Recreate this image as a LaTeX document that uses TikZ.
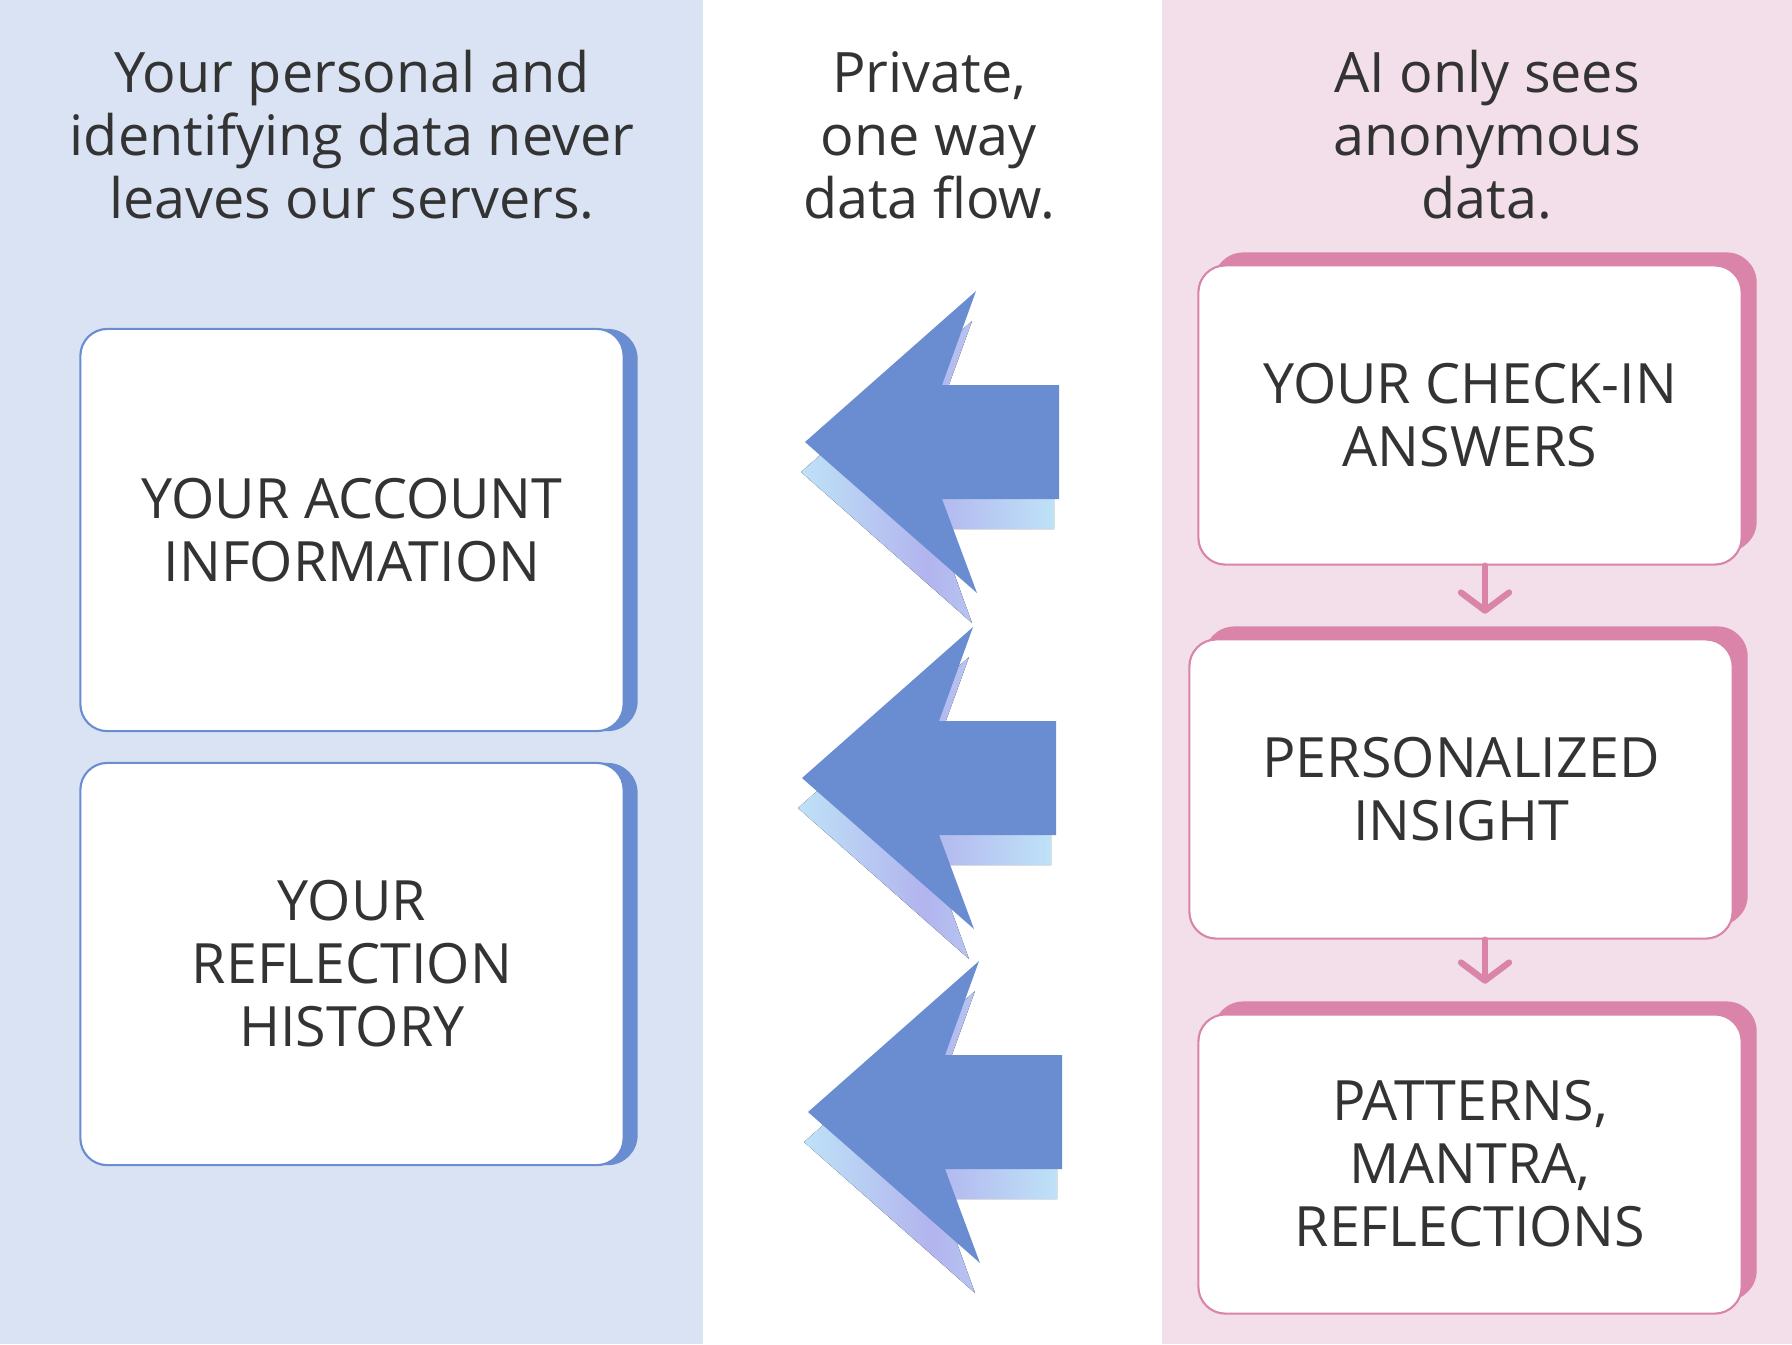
\documentclass[tikz,border=0pt]{standalone}
\usepackage{fontspec}
\setmainfont{Open Sans}
\usepackage{xcolor}
\usetikzlibrary{arrows.meta,positioning,calc}
\definecolor{leftbg}{HTML}{DAE3F3}
\definecolor{rightbg}{HTML}{F3DFEA}
\definecolor{flowblue}{HTML}{6A8CD0}
\definecolor{shadelav}{HTML}{B2B4EE}
\definecolor{shadesky}{HTML}{BEE2F7}
\definecolor{rosy}{HTML}{D984A8}
\definecolor{ink}{HTML}{333333}

\begin{document}
\begin{tikzpicture}[x=0.01cm,y=-0.01cm,
  headtext/.style={text=ink,align=center,font=\fontsize{15.85}{17.9}\selectfont},
  infobox/.style={draw=#1,line width=0.6pt,fill=white,rounded corners=0.27cm,
    minimum width=5.43cm,align=center,text=ink,font=\fontsize{15.8}{17.9}\selectfont},
  boxshade/.style={fill=#1,rounded corners=0.3cm,minimum width=5.43cm},
  linkarrow/.style={-{Straight Barb[round,length=1.8mm,width=4.8mm]},rosy,line width=1.8pt,line cap=round}]
\useasboundingbox (0,0) rectangle (1792,1344);
% three panels
\fill[leftbg] (0,0) rectangle (703,1344);
\fill[rightbg] (1162,0) rectangle (1792,1344);
\node[headtext] (privtitle) at (352,135) {Your personal and\\identifying data never\\leaves our servers.};
\node[headtext] (flowtitle) at (929,135) {Private,\\one way\\data flow.};
\node[headtext] (aititle) at (1487,135) {AI only sees\\anonymous\\data.};
% our servers
\node[boxshade=flowblue,minimum height=4.02cm] (acctshade) at (366,530) {};
\node[infobox=flowblue,minimum height=4.02cm] (acct) at (352,530) {YOUR ACCOUNT\\INFORMATION};
\node[boxshade=flowblue,minimum height=4.02cm] (histshade) at (366,964) {};
\node[infobox=flowblue,minimum height=4.02cm] (hist) at (352,964) {YOUR\\REFLECTION\\HISTORY};
% one way arrows
\foreach \tx/\ty in {805/442,802/778,808/1112}{
  \begin{scope}[shift={(\tx,\ty)}]
  \fill[left color=shadesky,right color=shadesky,middle color=shadelav]
    (-4,30) -- (167,-121) -- (133,-27) -- (249,-27) -- (249,87) -- (133,87) -- (167,181) -- cycle;
  \fill[flowblue] (0,0) -- (171,-151) -- (137,-57) -- (254,-57) -- (254,57) -- (137,57) -- (172,151) -- cycle;
  \end{scope}}
% anonymous side
\node[boxshade=rosy,minimum height=2.99cm] (chkshade) at (1485,402) {};
\node[infobox=rosy,minimum height=2.99cm] (chk) at (1470,415) {YOUR CHECK-IN\\ANSWERS};
\node[boxshade=rosy,minimum height=2.99cm] (insshade) at (1476,776) {};
\node[infobox=rosy,minimum height=2.99cm] (ins) at (1461,789) {PERSONALIZED\\INSIGHT};
\node[boxshade=rosy,minimum height=2.99cm] (patshade) at (1485,1151) {};
\node[infobox=rosy,minimum height=2.99cm] (pat) at (1470,1164) {PATTERNS,\\MANTRA,\\REFLECTIONS};
\draw[linkarrow] (chk.south -| chkshade) -- ($(insshade.north -| chkshade)+(0,-12)$);
\draw[linkarrow] (ins.south -| patshade) -- ($(patshade.north)+(0,-17)$);
\end{tikzpicture}
\end{document}
